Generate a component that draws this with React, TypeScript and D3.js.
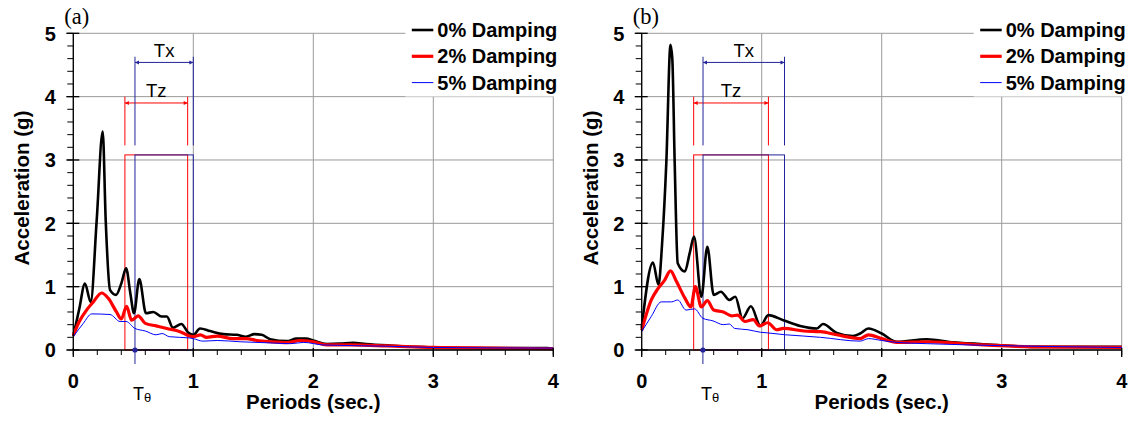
import React from "react";
import * as d3 from "d3";

// ---- data (period in sec, spectral acceleration in g) ----
const periodTicks = [0, 1, 2, 3, 4];
const accTicks = [0, 1, 2, 3, 4, 5];
const legendLabels = ["0% Damping", "2% Damping", "5% Damping"];
const panelLabels = ["(a)", "(b)"];

const a0: [number, number][] = [[0,0.22],[0.05,0.65],[0.097,1.05],[0.145,0.76],[0.195,2.05],[0.245,3.45],[0.27,2.05],[0.306,0.95],[0.356,0.87],[0.40,1.05],[0.44,1.29],[0.475,0.9],[0.506,0.58],[0.55,1.12],[0.606,0.58],[0.667,0.6],[0.736,0.53],[0.78,0.53],[0.83,0.35],[0.9,0.41],[0.96,0.27],[1.0,0.24],[1.056,0.34],[1.14,0.3],[1.25,0.25],[1.36,0.24],[1.44,0.21],[1.51,0.25],[1.57,0.24],[1.64,0.17],[1.78,0.14],[1.86,0.18],[1.94,0.18],[2.0,0.15],[2.11,0.095],[2.22,0.1],[2.33,0.115],[2.44,0.095],[2.64,0.07],[3.0,0.04],[3.4,0.03],[3.95,0.03],[4.0,0.02]];
const a2: [number, number][] = [[0,0.23],[0.05,0.45],[0.11,0.63],[0.167,0.76],[0.236,0.9],[0.29,0.82],[0.36,0.6],[0.40,0.49],[0.444,0.69],[0.486,0.47],[0.54,0.54],[0.6,0.42],[0.69,0.38],[0.78,0.34],[0.89,0.29],[0.97,0.22],[1.0,0.21],[1.06,0.24],[1.11,0.2],[1.2,0.22],[1.33,0.18],[1.44,0.18],[1.53,0.15],[1.64,0.13],[1.78,0.115],[1.89,0.15],[2.0,0.13],[2.11,0.08],[2.31,0.08],[2.61,0.065],[3.0,0.04],[3.5,0.03],[4.0,0.02]];
const a5: [number, number][] = [[0,0.21],[0.083,0.42],[0.153,0.57],[0.306,0.56],[0.39,0.45],[0.44,0.45],[0.514,0.34],[0.6,0.3],[0.69,0.24],[0.74,0.26],[0.8,0.21],[0.97,0.19],[1.0,0.18],[1.08,0.14],[1.2,0.15],[1.39,0.13],[1.67,0.11],[1.81,0.1],[1.92,0.12],[2.08,0.08],[2.61,0.06],[3.0,0.04],[4.0,0.03]];

const b0: [number, number][] = [[0,0.35],[0.094,1.38],[0.14,1.03],[0.17,1.68],[0.205,2.95],[0.24,4.82],[0.255,4.6],[0.275,2.95],[0.30,1.37],[0.36,1.24],[0.40,1.53],[0.436,1.79],[0.497,0.84],[0.547,1.63],[0.6,0.87],[0.66,0.92],[0.73,0.79],[0.78,0.84],[0.84,0.5],[0.91,0.69],[0.99,0.38],[1.055,0.55],[1.18,0.47],[1.32,0.38],[1.46,0.34],[1.51,0.41],[1.625,0.27],[1.76,0.22],[1.82,0.26],[1.89,0.34],[2.0,0.26],[2.125,0.13],[2.375,0.17],[2.6,0.12],[2.97,0.08],[3.25,0.05],[4.0,0.05]];
const b2: [number, number][] = [[0,0.31],[0.08,0.79],[0.136,0.97],[0.19,1.1],[0.24,1.25],[0.29,1.08],[0.36,0.82],[0.41,0.68],[0.447,1.0],[0.497,0.68],[0.547,0.78],[0.6,0.63],[0.68,0.6],[0.75,0.54],[0.8,0.55],[0.86,0.45],[0.93,0.48],[0.98,0.38],[1.05,0.43],[1.125,0.32],[1.18,0.34],[1.35,0.3],[1.49,0.29],[1.625,0.24],[1.82,0.18],[1.89,0.24],[2.0,0.18],[2.125,0.12],[2.375,0.13],[2.85,0.08],[3.25,0.05],[4.0,0.04]];
const b5: [number, number][] = [[0,0.29],[0.08,0.53],[0.163,0.76],[0.25,0.76],[0.30,0.79],[0.37,0.63],[0.44,0.65],[0.51,0.5],[0.594,0.46],[0.68,0.4],[0.73,0.41],[0.775,0.34],[0.886,0.32],[0.99,0.28],[1.05,0.27],[1.2,0.24],[1.35,0.22],[1.49,0.2],[1.82,0.14],[1.89,0.18],[2.0,0.15],[2.125,0.12],[2.375,0.1],[2.97,0.07],[4.0,0.04]];

// annotation values: [T_theta, Tz start, Tz end, Tx start, Tx end]
const annotA = [0.514, 0.43, 0.953, 0.514, 1.0];
const annotB = [0.51, 0.433, 1.056, 0.511, 1.19];
// levels (g): rectangle top, bracket bottom, Tz bracket top, Tz arrow, Tx bracket top, Tx arrow
const annotLevels = [3.08, 3.23, 4.0, 3.9, 4.63, 4.54];

const FONT = "'Liberation Sans', Arial, Helvetica, sans-serif";
const BLACK = "#000000";
const RED = "#ff0000";
const BLUE = "#0000ff";
const NAVY = "#24249a";
const GRID = "#9a9a9a";

function Panel({ left, label, series, annot }: { left: number; label: string; series: [number, number][][]; annot: number[] }) {
  const top = 33.3, bottom = 350, width = 480;
  const x = d3.scaleLinear().domain([0, 4]).range([left, left + width]);
  const y = d3.scaleLinear().domain([0, 5]).range([bottom, top]);
  const line = d3.line<[number, number]>().x(d => x(d[0])).y(d => y(d[1])).curve(d3.curveMonotoneX);
  const styles = [
    { stroke: BLACK, w: 2.6 },
    { stroke: RED, w: 3.2 },
    { stroke: BLUE, w: 1 },
  ];
  const minorX = d3.range(0, 4.0001, 0.2);
  const minorY = d3.range(0, 5.0001, 0.2);
  const [tTheta, tz0, tz1, tx0, tx1] = annot;
  const [rectTop, brBot, tzTop, tzArr, txTop, txArr] = annotLevels;
  const right = left + width;
  const legX = right - 148;
  const arrow = (x0: number, x1: number, yy: number, col: string) => (
    <g>
      <line x1={x0} x2={x1} y1={yy} y2={yy} stroke={col} strokeWidth={1} />
      <path d={`M${x0},${yy} l4,-2 v4 z`} fill={col} />
      <path d={`M${x1},${yy} l-4,-2 v4 z`} fill={col} />
    </g>
  );
  return (
    <g>
      {/* grid */}
      {accTicks.map(t => (
        <line key={"gy" + t} x1={x(0)} x2={x(4)} y1={y(t)} y2={y(t)} stroke={GRID} strokeWidth={1} />
      ))}
      {periodTicks.map(t => (
        <line key={"gx" + t} x1={x(t)} x2={x(t)} y1={y(0)} y2={y(5)} stroke={GRID} strokeWidth={1} />
      ))}
      {/* annotations: rectangles */}
      <rect x={x(tz0)} y={y(rectTop)} width={x(tz1) - x(tz0)} height={y(0) - y(rectTop)} fill="none" stroke={RED} strokeWidth={1} />
      <rect x={x(tx0)} y={y(rectTop)} width={x(tx1) - x(tx0)} height={y(0) - y(rectTop)} fill="none" stroke={NAVY} strokeWidth={1} />
      {/* brackets */}
      <line x1={x(tz0)} x2={x(tz0)} y1={y(tzTop)} y2={y(brBot)} stroke={RED} strokeWidth={1} />
      <line x1={x(tz1)} x2={x(tz1)} y1={y(tzTop)} y2={y(brBot)} stroke={RED} strokeWidth={1} />
      {arrow(x(tz0), x(tz1), y(tzArr), RED)}
      <line x1={x(tx0)} x2={x(tx0)} y1={y(txTop)} y2={y(brBot)} stroke={NAVY} strokeWidth={1} />
      <line x1={x(tx1)} x2={x(tx1)} y1={y(txTop)} y2={y(brBot)} stroke={NAVY} strokeWidth={1} />
      {arrow(x(tx0), x(tx1), y(txArr), NAVY)}
      <text x={(x(tz0) + x(tz1)) / 2} y={y(tzTop) + 0.5} textAnchor="middle" fontFamily={FONT} fontSize={18.5}>Tz</text>
      <text x={(x(tx0) + x(tx1)) / 2} y={y(txTop) + 0.5} textAnchor="middle" fontFamily={FONT} fontSize={18.5}>Tx</text>
      {/* series */}
      {series.map((s, i) => (
        <path key={"s" + i} d={line(s) || ""} fill="none" stroke={styles[i].stroke} strokeWidth={styles[i].w} strokeLinejoin="round" />
      ))}
      {/* axes */}
      <line x1={x(0)} x2={x(4)} y1={y(0)} y2={y(0)} stroke={BLACK} strokeWidth={1.3} />
      <line x1={x(0)} x2={x(0)} y1={y(0)} y2={y(5)} stroke={BLACK} strokeWidth={1.3} />
      {minorX.map((t, i) => (
        <line key={"mx" + i} x1={x(t)} x2={x(t)} y1={y(0)} y2={y(0) + 5} stroke={BLACK} strokeWidth={1} />
      ))}
      {periodTicks.map(t => (
        <line key={"Mx" + t} x1={x(t)} x2={x(t)} y1={y(0) - 2} y2={y(0) + 7} stroke={BLACK} strokeWidth={1.3} />
      ))}
      {minorY.map((t, i) => (
        <line key={"my" + i} x1={x(0) - 6} x2={x(0)} y1={y(t)} y2={y(t)} stroke={BLACK} strokeWidth={1} />
      ))}
      {accTicks.map(t => (
        <line key={"My" + t} x1={x(0) - 7} x2={x(0) + 6} y1={y(t)} y2={y(t)} stroke={BLACK} strokeWidth={1.3} />
      ))}
      {periodTicks.map(t => (
        <text key={"lx" + t} x={x(t)} y={387.5} textAnchor="middle" fontFamily={FONT} fontWeight="bold" fontSize={20}>{t}</text>
      ))}
      {accTicks.map(t => (
        <text key={"ly" + t} x={x(0) - 23} y={y(t) + 7.2} textAnchor="middle" fontFamily={FONT} fontWeight="bold" fontSize={20}>{t}</text>
      ))}
      {/* T theta marker */}
      <line x1={x(tTheta)} x2={x(tTheta)} y1={y(0)} y2={y(0) + 14} stroke={NAVY} strokeWidth={1} />
      <circle cx={x(tTheta)} cy={y(0)} r={2.6} fill={NAVY} />
      <text x={x(tTheta) - 2} y={400} fontFamily={FONT} fontSize={18}>
        T<tspan fontSize={13} dy={2}>θ</tspan>
      </text>
      {/* axis titles */}
      <text x={x(2)} y={408.5} textAnchor="middle" fontFamily={FONT} fontWeight="bold" fontSize={20.5}>Periods (sec.)</text>
      <text transform={`translate(${left - 44},${188}) rotate(-90)`} textAnchor="middle" fontFamily={FONT} fontWeight="bold" fontSize={20.5}>Acceleration (g)</text>
      <text x={left - 9} y={23.5} fontFamily="'Liberation Serif', 'Times New Roman', serif" fontSize={22.5}>{label}</text>
      {/* legend */}
      <rect x={legX} y={12} width={152} height={84.5} fill="#ffffff" />
      {legendLabels.map((l, i) => (
        <g key={"lg" + i}>
          <line x1={legX + 6.5} x2={legX + 28} y1={30 + i * 26.3} y2={30 + i * 26.3} stroke={styles[i].stroke} strokeWidth={styles[i].w} />
          <text x={legX + 32} y={30 + i * 26.3 + 7} fontFamily={FONT} fontWeight="bold" fontSize={20}>{l}</text>
        </g>
      ))}
    </g>
  );
}

export default function App() {
  return (
    <svg width={1130} height={423} style={{ position: "absolute", left: 0, top: 0, background: "#fff" }}>
      <rect x={0} y={0} width={1130} height={423} fill="#fff" />
      <Panel left={73.3} label={panelLabels[0]} series={[a0, a2, a5]} annot={annotA} />
      <Panel left={641.7} label={panelLabels[1]} series={[b0, b2, b5]} annot={annotB} />
    </svg>
  );
}
